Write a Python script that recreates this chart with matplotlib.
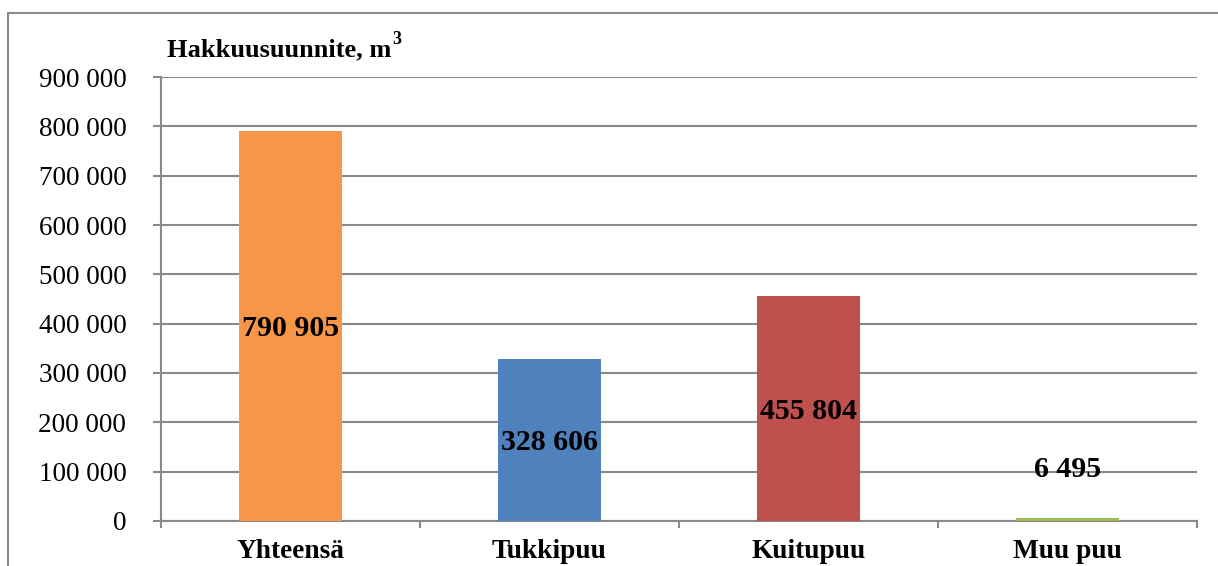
import matplotlib
matplotlib.use("Agg")
import matplotlib.pyplot as plt
from matplotlib.patches import Rectangle
from matplotlib.ticker import FixedLocator, FuncFormatter

categories = ["Yhteensä", "Tukkipuu", "Kuitupuu", "Muu puu"]
values = [790905, 328606, 455804, 6495]
labels = ["790 905", "328 606", "455 804", "6 495"]
colors = ["#F79646", "#4F81BD", "#C0504D", "#9BBB59"]
yticks = [0, 100000, 200000, 300000, 400000, 500000, 600000, 700000, 800000, 900000]
title = "Hakkuusuunnite, m"

plt.rcParams["font.family"] = ["Liberation Serif", "DejaVu Serif"]
W, H = 1218, 566
fig = plt.figure(figsize=(W / 100, H / 100), dpi=100)
fig.patch.set_facecolor("white")

# outer chart border
fig.add_artist(Rectangle((8 / W, -0.1), 1.2, (H - 13) / H + 0.1, transform=fig.transFigure,
                         fill=False, edgecolor="#8c8c8c", linewidth=1.5))

ax = fig.add_axes([161 / W, 1 - 521 / H, (1197 - 161) / W, (521 - 77) / H])
gc = "#898989"
x = list(range(len(categories)))
ax.bar(x, values, width=0.4, color=colors, zorder=3)
ax.set_xlim(-0.5, len(categories) - 0.5)
ax.set_ylim(0, 900000)
ax.set_yticks(yticks)
ax.yaxis.set_major_formatter(FuncFormatter(lambda v, p: f"{int(v):,}".replace(",", " ")))
ax.grid(axis="y", color=gc, linewidth=1.5, zorder=0)
ax.set_axisbelow(True)
for s in ["top", "right"]:
    ax.spines[s].set_visible(False)
ax.spines["left"].set_color(gc)
ax.spines["left"].set_linewidth(1.5)
ax.spines["bottom"].set_color(gc)
ax.spines["bottom"].set_linewidth(1.5)
ax.tick_params(axis="y", length=6, width=1.5, color=gc, labelsize=19.5, pad=19)
ax.set_xticks([])
ax.xaxis.set_minor_locator(FixedLocator([i - 0.5 for i in range(len(categories) + 1)]))
ax.tick_params(axis="x", which="minor", length=5, width=1.5, color=gc)
for i, c in enumerate(categories):
    ax.text(i, -0.04, c, transform=ax.get_xaxis_transform(), ha="center", va="top",
            fontsize=19.7, fontweight="bold")

for i, (v, lab) in enumerate(zip(values, labels)):
    if v > 50000:
        ax.text(i, v / 2, lab, ha="center", va="center_baseline", fontsize=21.5,
                fontweight="bold", zorder=4)
    else:
        ax.text(i, v + 103000, lab, ha="center", va="center_baseline", fontsize=21.5,
                fontweight="bold", zorder=4)

t = fig.text(167 / W, 1 - 47 / H, title, ha="left", va="center_baseline", fontsize=19,
             fontweight="bold")
fig.canvas.draw()
bb = t.get_window_extent()
fig.text(bb.x1 / W + 1 / W, 1 - 40 / H, "3", ha="left", va="center", fontsize=13,
         fontweight="bold")

fig.savefig("out.png", dpi=100)
